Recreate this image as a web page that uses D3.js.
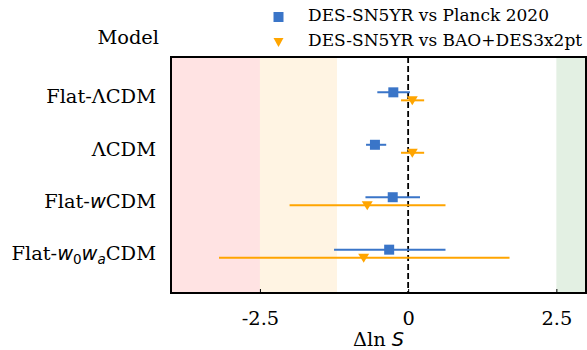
<!DOCTYPE html>
<html>
<head>
<meta charset="utf-8">
<script src="https://cdn.jsdelivr.net/npm/d3@7"></script>
<style>
  html, body { margin: 0; padding: 0; background: #fff; }
  svg text { font-family: "DejaVu Serif", serif; fill: #000; }
</style>
</head>
<body>
<svg id="chart" width="587" height="350"></svg>
<script>
// Model comparison: Δln S for each cosmological model
const models = ["Flat-ΛCDM", "ΛCDM", "Flat-wCDM", "Flat-w0waCDM"];

// DES-SN5YR vs Planck 2020: central value, lower and upper bound
const planckMid = [-0.25, -0.56, -0.26, -0.32];
const planckLo  = [-0.52, -0.71, -0.72, -1.25];
const planckHi  = [ 0.03, -0.37,  0.20,  0.63];

// DES-SN5YR vs BAO+DES3x2pt
const baoMid = [0.07, 0.07, -0.69, -0.75];
const baoLo  = [-0.12, -0.12, -2.00, -3.19];
const baoHi  = [0.27, 0.27, 0.63, 1.71];

const xTicks = [-2.5, 0, 2.5];
const xTickLabels = ["-2.5", "0", "2.5"];

// Jeffreys-scale shading bands [from, to]
const bandRanges = [[-4, -2.5], [-2.5, -1.2], [2.5, 3]];
const bandColors = ["#ffe3e3", "#fff4e3", "#e3f0e3"];

const seriesNames = ["DES-SN5YR vs Planck 2020", "DES-SN5YR vs BAO+DES3x2pt"];
const seriesColors = ["#3a75c8", "#ffa500"];

const FS = 19.4;     // labels and ticks
const LFS = 17;      // legend

const svg = d3.select("#chart");
const m = { left: 171, right: 586, top: 57, bottom: 293 };

const x = d3.scaleLinear().domain([-4, 3]).range([m.left, m.right]);
const y = d3.scaleLinear().domain([-0.75, models.length - 0.25]).range([m.top, m.bottom]);

// shaded bands
svg.append("g").selectAll("rect").data(bandRanges).join("rect")
  .attr("x", d => x(d[0]))
  .attr("width", d => x(d[1]) - x(d[0]))
  .attr("y", m.top)
  .attr("height", m.bottom - m.top)
  .attr("fill", (d, i) => bandColors[i]);

// zero reference line
svg.append("line")
  .attr("x1", x(0)).attr("x2", x(0))
  .attr("y1", m.top).attr("y2", m.bottom)
  .attr("stroke", "#000").attr("stroke-width", 1.8)
  .attr("stroke-dasharray", "6,3");

const offset = 4;

// error bars and markers
function drawSeries(mid, lo, hi, dy, color, shape) {
  const g = svg.append("g");
  g.selectAll("line").data(models).join("line")
    .attr("x1", (d, i) => x(lo[i])).attr("x2", (d, i) => x(hi[i]))
    .attr("y1", (d, i) => y(i) + dy).attr("y2", (d, i) => y(i) + dy)
    .attr("stroke", color).attr("stroke-width", 2);
  g.selectAll("path").data(models).join("path")
    .attr("transform", (d, i) => `translate(${x(mid[i])},${y(i) + dy})`)
    .attr("d", shape)
    .attr("fill", color);
}
const square = "M-5,-5H5V5H-5Z";
const triDown = "M-5.5,-4H5.5L0,5Z";
drawSeries(planckMid, planckLo, planckHi, -offset, seriesColors[0], square);
drawSeries(baoMid, baoLo, baoHi, offset, seriesColors[1], triDown);

// x axis with inward ticks
const xAxis = d3.axisBottom(x).tickValues(xTicks).tickSize(-4)
  .tickFormat((d, i) => xTickLabels[i]);
const gx = svg.append("g").attr("transform", `translate(0,${m.bottom})`).call(xAxis);
gx.select(".domain").remove();
gx.selectAll(".tick line").attr("stroke", "#000").attr("stroke-width", 1);
gx.selectAll(".tick text").attr("font-size", FS).attr("dy", null).attr("y", 32)
  .attr("font-family", "DejaVu Serif");

// frame
svg.append("rect")
  .attr("x", m.left).attr("y", m.top)
  .attr("width", m.right - m.left).attr("height", m.bottom - m.top)
  .attr("fill", "none").attr("stroke", "#000").attr("stroke-width", 2);

// axis label, centred on the plot area
const xl = svg.append("text").attr("x", (m.left + m.right) / 2).attr("y", 346)
  .attr("text-anchor", "middle").attr("font-size", FS);
xl.append("tspan").text("Δln");
xl.append("tspan").attr("dx", 6).attr("font-family", "DejaVu Sans").attr("font-style", "oblique").text("S");

// model labels
const labelX = 156;
svg.append("text").attr("x", labelX + 3).attr("y", 37).attr("dy", "0.35em")
  .attr("text-anchor", "end").attr("font-size", FS).text("Model");

models.forEach((name, i) => {
  const t = svg.append("text").attr("x", labelX).attr("y", y(i)).attr("dy", "0.35em")
    .attr("text-anchor", "end").attr("font-size", FS);
  const it = s => t.append("tspan").attr("font-family", "DejaVu Sans").attr("font-style", "oblique").text(s);
  if (name === "Flat-wCDM") {
    t.append("tspan").text("Flat-");
    it("w");
    t.append("tspan").text("CDM");
  } else if (name === "Flat-w0waCDM") {
    t.append("tspan").text("Flat-");
    it("w");
    t.append("tspan").attr("font-family", "DejaVu Sans").attr("font-size", 13.5).attr("dy", 4).text("0");
    it("w").attr("dy", -4);
    t.append("tspan").attr("font-family", "DejaVu Sans").attr("font-style", "oblique")
      .attr("font-size", 13.5).attr("dy", 4).text("a");
    t.append("tspan").attr("dy", -4).text("CDM");
  } else {
    t.text(name);
  }
});

// legend
const legendY = [15, 40];
const lg = svg.append("g");
lg.append("path").attr("transform", `translate(278.5,17)`).attr("d", square).attr("fill", seriesColors[0]);
lg.append("path").attr("transform", `translate(278.5,42)`).attr("d", "M-5,-4H5L0,5Z").attr("fill", seriesColors[1]);
seriesNames.forEach((s, i) => {
  lg.append("text").attr("x", 308).attr("y", legendY[i]).attr("dy", "0.35em")
    .attr("font-size", LFS).text(s);
});
</script>
</body>
</html>
